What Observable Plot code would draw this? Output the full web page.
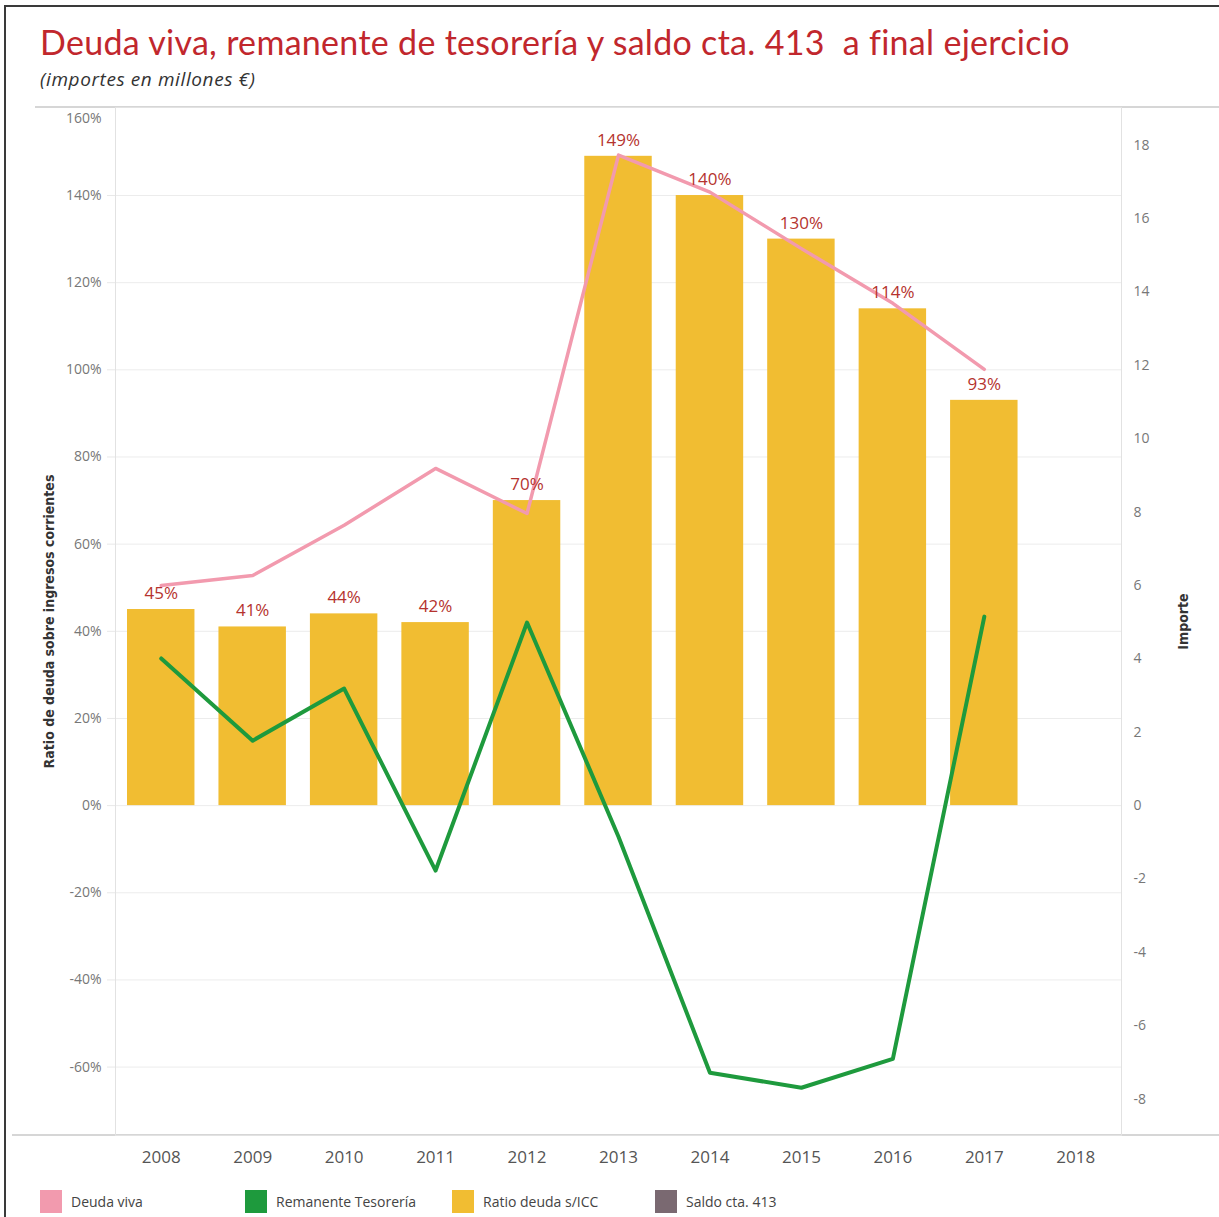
<!DOCTYPE html>
<html>
<head>
<meta charset="utf-8">
<script src="https://cdn.jsdelivr.net/npm/d3@7"></script>
<script src="https://cdn.jsdelivr.net/npm/@observablehq/plot@0.6"></script>
<style>
  body { margin: 0; background: #fff; }
  #wrap { position: relative; width: 1219px; height: 1217px; overflow: hidden; font-family: Lato, "Open Sans", sans-serif; }
  #frame { position: absolute; left: 4px; top: 5px; right: -10px; bottom: -10px; border-top: 2px solid #3a3a3a; border-left: 2px solid #3a3a3a; }
  #title { position: absolute; left: 40px; top: 21px; font-family: Lato, sans-serif; font-size: 34px; color: #c1272d; white-space: pre; letter-spacing: 0.3px; }
  #subtitle { position: absolute; left: 40px; top: 66px; font-family: "Open Sans", sans-serif; font-style: italic; font-size: 19px; color: #333; letter-spacing: 0.6px; }
  .hline { position: absolute; height: 2px; background: #d6d6d6; }
  #chart { position: absolute; left: 0; top: 80px; }
  #legend { position: absolute; left: 0; top: 1190px; width: 1219px; height: 26px; }
  .li { position: absolute; top: 0; display: flex; align-items: center; font-family: "Open Sans", sans-serif; font-size: 14px; color: #444; }
  .sw { width: 22px; height: 23px; margin-right: 9px; }
  svg g[aria-label="y-axis label"] text { font-family: "Liberation Sans Narrow", "DejaVu Sans Condensed", sans-serif; font-stretch: condensed; font-weight: bold; font-size: 14px; fill: #333; }
</style>
</head>
<body>
<div id="wrap">
  <div id="frame"></div>
  <div id="title">Deuda viva, remanente de tesorería y saldo cta. 413  a final ejercicio</div>
  <div id="subtitle">(importes en millones €)</div>
  <div class="hline" style="left:35px; width:1190px; top:106px;"></div>
  <div class="hline" style="left:12px; width:1210px; top:1134px;"></div>
  <div id="chart"></div>
  <div id="legend"></div>
</div>
<script>
// ---- data ----
const years = ["2008","2009","2010","2011","2012","2013","2014","2015","2016","2017","2018"];
const dataYears = ["2008","2009","2010","2011","2012","2013","2014","2015","2016","2017"];
const ratioDeuda = [45, 41, 44, 42, 70, 149, 140, 130, 114, 93];           // % (left axis)
const deudaViva = [6.0, 6.27, 7.64, 9.19, 7.96, 17.73, 16.72, 15.18, 13.69, 11.89]; // millones € (right axis)
const remanente = [4.01, 1.77, 3.19, -1.77, 4.99, -0.85, -7.28, -7.69, -6.9, 5.15]; // millones € (right axis)
const leftTicks = [-60, -40, -20, 0, 20, 40, 60, 80, 100, 120, 140];
const leftTop = [160];
const rightTicks = [-8, -6, -4, -2, 0, 2, 4, 6, 8, 10, 12, 14, 16, 18];
const legendLabels = ["Deuda viva", "Remanente Tesorería", "Ratio deuda s/ICC", "Saldo cta. 413"];
const legendColors = ["#f29aae", "#1e9a3d", "#f1bd32", "#7a6971"];

// right axis (millones) expressed in left-axis (%) units, zero-aligned
const K = 8.42;
const bars = dataYears.map((y, i) => ({year: y, ratio: ratioDeuda[i]}));
const viva = dataYears.map((y, i) => ({year: y, v: deudaViva[i] * K}));
const rem = dataYears.map((y, i) => ({year: y, v: remanente[i] * K}));

const chart = Plot.plot({
  width: 1219,
  height: 1095,
  marginTop: 27,
  marginBottom: 40,
  marginLeft: 115,
  marginRight: 98,
  style: {fontFamily: "'Open Sans', sans-serif", background: "transparent"},
  x: {type: "band", domain: years, padding: 0, round: false, axis: null},
  y: {domain: [-75.7, 160.2], axis: null},
  marks: [
    Plot.gridY(leftTicks, {stroke: "#ececec", strokeOpacity: 1}),
    Plot.frame({stroke: "#e2e2e2"}),
    Plot.barY(bars, {x: "year", y: "ratio", fill: legendColors[2], insetLeft: 12, insetRight: 12}),
    Plot.line(viva, {x: "year", y: "v", stroke: legendColors[0], strokeWidth: 3.5}),
    Plot.line(rem, {x: "year", y: "v", stroke: legendColors[1], strokeWidth: 4}),
    Plot.text(bars, {x: "year", y: "ratio", text: d => d.ratio + "%", dy: -16, fill: "#b5332e", fontSize: 17}),
    Plot.axisX(years, {anchor: "bottom", tickSize: 0, tickPadding: 15, fontSize: 17, fill: "#555", label: null}),
    Plot.axisY(leftTicks, {anchor: "left", tickSize: 8, tickPadding: 6, stroke: "#e8e8e8", fill: "#777", fontSize: 14,
      tickFormat: d => d + "%", label: "Ratio de deuda sobre ingresos corrientes", labelAnchor: "center", labelOffset: 71, labelArrow: "none"}),
    Plot.axisY(leftTop, {anchor: "left", tickSize: 0, tickPadding: 14, dy: 10, fill: "#777", fontSize: 14,
      tickFormat: d => d + "%", label: null}),
    Plot.axisY(rightTicks.map(v => v * K), {anchor: "right", tickSize: 0, tickPadding: 12, fill: "#777", fontSize: 14,
      tickFormat: d => String(Math.round(d / K)), label: "Importe", labelAnchor: "center", labelOffset: 66, labelArrow: "none"})
  ]
});
document.getElementById("chart").appendChild(chart);

// legend
const legendX = [40, 245, 452, 655];
const legend = document.getElementById("legend");
legendLabels.forEach((lab, i) => {
  const d = document.createElement("div");
  d.className = "li";
  d.style.left = legendX[i] + "px";
  d.innerHTML = `<span class="sw" style="background:${legendColors[i]}"></span><span>${lab}</span>`;
  legend.appendChild(d);
});
</script>
</body>
</html>
